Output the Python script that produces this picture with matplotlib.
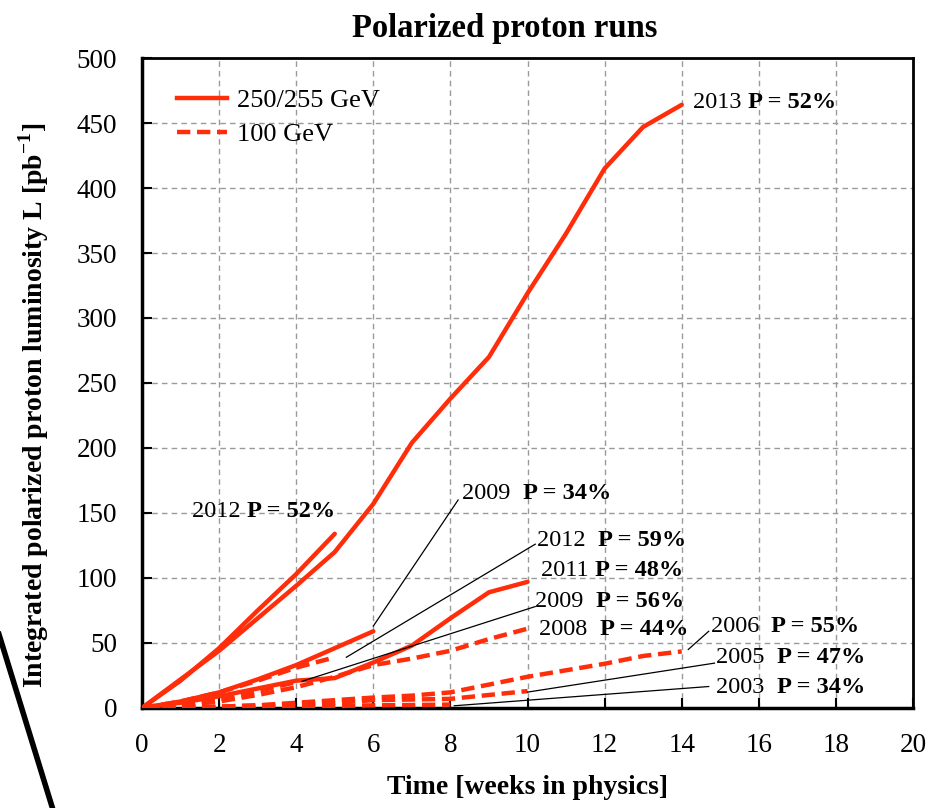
import matplotlib
matplotlib.use("Agg")
import matplotlib.pyplot as plt
from matplotlib.lines import Line2D

plt.rcParams['font.family'] = ['Liberation Serif', 'DejaVu Serif']
plt.rcParams['mathtext.fontset'] = 'custom'
plt.rcParams['mathtext.rm'] = 'Liberation Serif'
plt.rcParams['mathtext.bf'] = 'Liberation Serif:bold'

RED = '#ff2d0a'

# 250/255 GeV runs (solid), weekly integrated luminosity [pb^-1]
lum_2013 = [0, 22, 44, 69, 94, 120, 157, 204, 238, 270, 319, 365, 415, 447, 464]
lum_2012_255 = [0, 21, 46, 75, 103, 134]
lum_2009_250 = [0, 5, 12, 22, 33, 46, 59]
lum_2011 = [0, 4, 9, 15, 21, 23, 35, 48, 69, 89, 97]

# 100 GeV runs (dashed)
lum_2012_100 = [0, 5, 12, 21, 31, 39]
lum_2009_100 = [0, 2, 6, 13, 20]
lum_2008 = [0, 2, 5, 10, 16, 24, 33, 38, 44, 53, 61]
lum_2006 = [0, 0.5, 1, 2, 4, 6, 8, 9.5, 12, 18, 24, 29, 34, 40, 43.5]
lum_2005 = [0, 0.5, 1, 2, 3, 4, 6, 6.5, 7, 10, 13]
lum_2003 = [0, 0.3, 0.6, 1, 1.3, 1.6, 2, 2.3, 2.6]

solid_runs = [lum_2013, lum_2012_255, lum_2009_250, lum_2011]
dashed_runs = [lum_2012_100, lum_2009_100, lum_2008, lum_2006, lum_2005, lum_2003]

# labels: year, polarization, text position (week, L)
label_years = ["2013 ", "2012 ", "2009  ", "2012  ", "2011 ", "2009  ", "2008  ", "2006  ", "2005  ", "2003  "]
label_pols = ["P = 52%", "P = 52%", "P = 34%", "P = 59%", "P = 48%", "P = 56%",
              "P = 44%", "P = 55%", "P = 47%", "P = 34%"]
label_x = [14.3, 1.3, 8.3, 10.25, 10.35, 10.2, 10.3, 14.75, 14.9, 14.9]
label_y = [466, 151, 165, 129, 106, 82, 60, 63, 39, 16]

# leader lines: (from week, from L) -> (to week, to L)
leader_from = [(8.2, 160), (10.2, 126), (10.2, 78), (14.7, 59), (14.85, 34.5), (14.7, 16.5)]
leader_to = [(6.0, 63), (5.3, 39), (4.15, 20.5), (14.17, 45), (10.0, 12.2), (8.1, 1.7)]

fig = plt.figure(figsize=(9.33, 8.08), dpi=100)
ax = fig.add_axes([0.1522, 0.1238, 0.8264, 0.8044])

for lum in solid_runs:
    ax.plot(range(len(lum)), lum, color=RED, lw=3.2, solid_capstyle='round', zorder=3)
for lum in dashed_runs:
    ln, = ax.plot(range(len(lum)), lum, color=RED, lw=3.2, zorder=3)
    ln.set_dashes([3, 1.5])

for (x0, y0), (x1, y1) in zip(leader_from, leader_to):
    ax.plot([x0, x1], [y0, y1], color='black', lw=0.9, zorder=4)

for yr, pol, x, y in zip(label_years, label_pols, label_x, label_y):
    t = ax.text(x, y, yr, fontsize=17.5, va='center', ha='left', zorder=5)
    ax.annotate(pol, xy=(1, 0), xycoords=t, fontsize=17.5, fontweight='bold',
                va='bottom', ha='left', zorder=5)

ax.set_xlim(0, 20)
ax.set_ylim(0, 500)
ax.set_xticks(range(0, 21, 2))
ax.set_yticks(range(0, 501, 50))
ax.tick_params(direction='in', length=7, width=1.5, labelsize=19.5)
ax.tick_params(axis='x', pad=18)
ax.tick_params(axis='y', pad=18)
ax.grid(True, color='#9a9a9a', ls=(0, (4, 3)), lw=1)
ax.set_axisbelow(True)
for side, sp in ax.spines.items():
    sp.set_linewidth(2.5 if side in ('left', 'bottom') else 2)

ax.set_title("Polarized proton runs", fontsize=23.5, fontweight='bold', pad=15, x=0.47)
ax.set_xlabel("Time [weeks in physics]", fontsize=20, fontweight='bold', labelpad=12)
ax.set_ylabel("Integrated polarized proton luminosity L [pb$^{\\mathbf{-1}}$]",
              fontsize=20, fontweight='bold')
ax.yaxis.set_label_coords(-0.118, 0.465)

legend_lines = [Line2D([0], [0], color=RED, lw=3.2),
                Line2D([0], [0], color=RED, lw=3.2, dashes=[3, 1.5])]
ax.legend(legend_lines, ["250/255 GeV", "100 GeV"], loc='upper left',
          bbox_to_anchor=(0.014, 0.99), frameon=False, fontsize=19,
          handlelength=1.9, handletextpad=0.4, labelspacing=0.4)

# stray black stroke at lower-left corner of the figure
fig.add_artist(Line2D([-0.003, 0.057], [0.222, -0.003], transform=fig.transFigure,
                      color='black', lw=4))

fig.savefig("out.png", dpi=100)
